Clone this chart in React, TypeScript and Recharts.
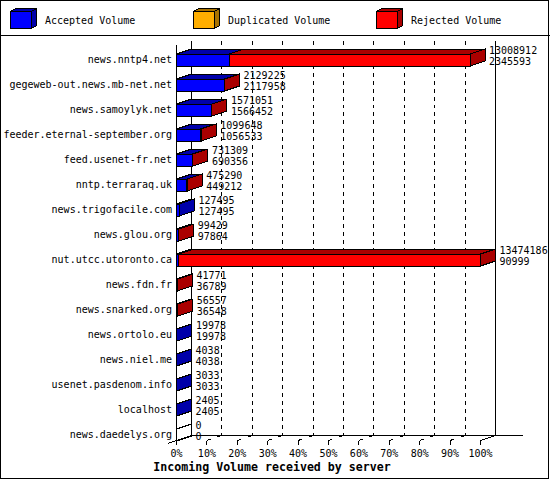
import React from 'react';
import { BarChart, Bar, XAxis, YAxis, CartesianGrid, Legend, LabelList } from 'recharts';

// ---------- data ----------
const SERVERS = [
  'news.nntp4.net',
  'gegeweb-out.news.mb-net.net',
  'news.samoylyk.net',
  'feeder.eternal-september.org',
  'feed.usenet-fr.net',
  'nntp.terraraq.uk',
  'news.trigofacile.com',
  'news.glou.org',
  'nut.utcc.utoronto.ca',
  'news.fdn.fr',
  'news.snarked.org',
  'news.ortolo.eu',
  'news.niel.me',
  'usenet.pasdenom.info',
  'localhost',
  'news.daedelys.org',
];
const TOTAL_VOLUME = [
  13008912, 2129225, 1571051, 1099648, 731309, 475290, 127495, 99429,
  13474186, 41771, 56557, 19978, 4038, 3033, 2405, 0,
];
const ACCEPTED_VOLUME = [
  2345593, 2117958, 1566452, 1056533, 690356, 449212, 127495, 97864,
  90999, 36789, 36548, 19978, 4038, 3033, 2405, 0,
];
const PERCENT_TICKS = [0, 10, 20, 30, 40, 50, 60, 70, 80, 90, 100];
const LEGEND_LABELS = ['Accepted Volume', 'Duplicated Volume', 'Rejected Volume'];
const AXIS_TITLE = 'Incoming Volume received by server';

const MAX_TOTAL = Math.max(...TOTAL_VOLUME);
const ROWS = SERVERS.map((name, i) => ({
  name,
  total: TOTAL_VOLUME[i],
  accepted: ACCEPTED_VOLUME[i],
  rejected: TOTAL_VOLUME[i] - ACCEPTED_VOLUME[i],
}));
const TICK_VALUES = PERCENT_TICKS.map((p) => (p / 100) * MAX_TOTAL);
const GRID_VALUES = TICK_VALUES.slice(1, -1);
const WALL_VALUES = [0, MAX_TOTAL];

// ---------- style ----------
const W = 550;
const H = 480;
const FONT = '"DejaVu Sans Mono", "Liberation Mono", monospace';
const DX = 15;
const DY = 5;
const LEGEND_H = 36;
const BACK_TOP = 40.5;
const BACK_BOTTOM = 435.5;
const FRONT_BOTTOM = 440.5;
const FLOOR_END = 523;

const COLORS = {
  accepted: ['#0000ff', '#0000aa'],
  duplicated: ['#ffae00', '#a87200'],
  rejected: ['#ff0000', '#aa0000'],
};
const LEGEND_COLORS = [COLORS.accepted, COLORS.duplicated, COLORS.rejected];

const poly = (pts: number[][]) => pts.map((p) => p.join(',')).join(' ');

// map a value through the x axis scale handed over by recharts
function applyScale(axis: any, offset: any, v: number): number {
  const s = axis && axis.scale;
  let r: any = NaN;
  try {
    if (typeof s === 'function') r = s(v);
    else if (s && typeof s.map === 'function') r = s.map(v);
    else if (s && typeof s.scale === 'function') r = s.scale(v);
    else if (s && typeof s.apply === 'function') r = s.apply(v);
  } catch (e) {
    r = NaN;
  }
  if (typeof r === 'number' && isFinite(r)) return r;
  // fallback: linear mapping across the plot area
  const dom = (axis && axis.domain) || [0, MAX_TOTAL];
  const lo = Number(dom[0]) || 0;
  const hi = Number(dom[1]) || MAX_TOTAL;
  return offset.left + ((v - lo) / (hi - lo)) * offset.width;
}

function Box3D({ x, y, width, height, front, dark, side }: any) {
  const x0 = Number(x);
  const w = Math.max(0, Number(width) || 0);
  const x1 = x0 + w;
  const t = Number(y);
  const b = t + Number(height);
  return (
    <g shapeRendering="crispEdges" stroke="#000" strokeWidth={1}>
      <polygon points={poly([[x0, t], [x1, t], [x1, b], [x0, b]])} fill={front} />
      <polygon points={poly([[x0, t], [x1, t], [x1 + DX, t - DY], [x0 + DX, t - DY]])} fill={dark} />
      {side ? (
        <polygon points={poly([[x1, t], [x1 + DX, t - DY], [x1 + DX, b - DY], [x1, b]])} fill={side} />
      ) : null}
    </g>
  );
}

const AcceptedShape = (props: any) => {
  const p = props.payload || {};
  const empty = !(p.total > 0);
  const showSide = !(p.rejected > 0);
  return (
    <Box3D
      {...props}
      front={empty ? '#fff' : COLORS.accepted[0]}
      dark={empty ? '#fff' : COLORS.accepted[1]}
      side={showSide ? (empty ? '#fff' : COLORS.accepted[1]) : null}
    />
  );
};

const RejectedShape = (props: any) => {
  const p = props.payload || {};
  if (!(p.rejected > 0)) return <g />;
  return <Box3D {...props} front={COLORS.rejected[0]} dark={COLORS.rejected[1]} side={COLORS.rejected[1]} />;
};

const ValueLabel = (props: any) => {
  const { x, y, width, height, index, value } = props;
  const xe = Number(x) + Math.max(0, Number(width) || 0) + DX + 4;
  const cy = Number(y) + Number(height) / 2;
  const acc = ROWS[index] ? ROWS[index].accepted : '';
  return (
    <g fontFamily={FONT} fontSize={10} fill="#000">
      <text x={xe} y={cy - 9.5} dominantBaseline="central">{value}</text>
      <text x={xe} y={cy + 1.5} dominantBaseline="central">{acc}</text>
    </g>
  );
};

const ServerTick = (props: any) => {
  const { y, payload } = props;
  return (
    <text x={172} y={y} textAnchor="end" dominantBaseline="central" fontFamily={FONT} fontSize={10} fill="#000">
      {payload.value}
    </text>
  );
};

const PercentTick = (props: any) => {
  const { x, payload, index } = props;
  const px = Number(x);
  const pct = Math.round((payload.value / MAX_TOTAL) * 100);
  const first = index === 0;
  const last = index === PERCENT_TICKS.length - 1;
  return (
    <g>
      <g stroke="#000" strokeWidth={1} shapeRendering="crispEdges">
        <line x1={px} y1={FRONT_BOTTOM} x2={px} y2={FRONT_BOTTOM + 4} />
        {first ? (
          <>
            <line x1={px} y1={44.5} x2={px} y2={FRONT_BOTTOM} />
            <line x1={px - 8.5} y1={FRONT_BOTTOM + 2.8} x2={px + DX} y2={BACK_BOTTOM} />
          </>
        ) : last ? (
          <line x1={px} y1={FRONT_BOTTOM} x2={px + DX} y2={BACK_BOTTOM} />
        ) : (
          <line x1={px} y1={FRONT_BOTTOM} x2={px + DX} y2={BACK_BOTTOM} strokeDasharray="4 7 5" />
        )}
      </g>
      <text x={px} y={453} textAnchor="middle" dominantBaseline="central" fontFamily={FONT} fontSize={10} fill="#000">
        {pct}%
      </text>
    </g>
  );
};

const AxisTitle = () => (
  <text x={272} y={467} textAnchor="middle" dominantBaseline="central" fontFamily={FONT} fontSize={11.6} fontWeight="bold" fill="#000">
    {AXIS_TITLE}
  </text>
);

const LegendBox = () => (
  <svg width={W} height={LEGEND_H} style={{ display: 'block' }}>
    {LEGEND_LABELS.map((label, i) => {
      const x0 = 10 + 183 * i;
      const [front, dark] = LEGEND_COLORS[i];
      const l = x0 + 0.5;
      const r = x0 + 21.5;
      const t = 11.5;
      const b = 28.5;
      return (
        <g key={label}>
          <g stroke="#000" strokeWidth={1} shapeRendering="crispEdges">
            <polygon points={poly([[l, t], [r, t], [r, b], [l, b]])} fill={front} />
            <polygon points={poly([[l, t], [r, t], [r + 5, t - 3], [l + 5, t - 3]])} fill={dark} />
            <polygon points={poly([[r, t], [r + 5, t - 3], [r + 5, b - 3], [r, b]])} fill={dark} />
          </g>
          <text x={x0 + 35} y={20} dominantBaseline="central" fontFamily={FONT} fontSize={10} fill="#000">
            {label}
          </text>
        </g>
      );
    })}
    <line x1={0} y1={35.5} x2={W} y2={35.5} stroke="#000" strokeWidth={1} shapeRendering="crispEdges" />
  </svg>
);

const dashedGen = ({ xAxis, offset }: any) => GRID_VALUES.map((v) => applyScale(xAxis, offset, v) + DX);
const wallGen = ({ xAxis, offset }: any) => WALL_VALUES.map((v) => applyScale(xAxis, offset, v) + DX);

export default function App() {
  return (
    <div style={{ position: 'relative', width: W, height: H, fontFamily: FONT, background: '#fff' }}>
      <style>{'body{margin:0;background:#fff}'}</style>
      <BarChart
        width={W}
        height={H}
        data={ROWS}
        layout="vertical"
        margin={{ top: 11, right: 69.5, bottom: 0, left: 0 }}
        barSize={12}
      >
        <Legend
          verticalAlign="top"
          align="left"
          height={LEGEND_H}
          wrapperStyle={{ top: 0, left: 0, width: W, height: LEGEND_H, margin: 0, padding: 0 }}
          content={() => <LegendBox />}
        />
        <CartesianGrid
          horizontal={false}
          vertical
          stroke="#000"
          strokeDasharray="4 4"
          y={BACK_TOP}
          height={BACK_BOTTOM - BACK_TOP}
          verticalCoordinatesGenerator={dashedGen}
          shapeRendering="crispEdges"
        />
        <CartesianGrid
          horizontal
          vertical
          stroke="#000"
          x={191.5}
          width={FLOOR_END - 191.5}
          y={BACK_TOP}
          height={BACK_BOTTOM - BACK_TOP}
          verticalCoordinatesGenerator={wallGen}
          horizontalCoordinatesGenerator={() => [BACK_BOTTOM]}
          shapeRendering="crispEdges"
        />
        <XAxis
          type="number"
          domain={[0, MAX_TOTAL]}
          ticks={TICK_VALUES}
          interval={0}
          height={33}
          axisLine={false}
          tickLine={false}
          tick={(p: any) => <PercentTick {...p} />}
          label={{ content: () => <AxisTitle /> }}
        />
        <YAxis
          type="category"
          dataKey="name"
          width={176.5}
          axisLine={false}
          tickLine={false}
          interval={0}
          tick={(p: any) => <ServerTick {...p} />}
        />
        <Bar dataKey="accepted" stackId="v" isAnimationActive={false} shape={AcceptedShape} />
        <Bar dataKey="rejected" stackId="v" isAnimationActive={false} shape={RejectedShape}>
          <LabelList dataKey="total" content={ValueLabel} />
        </Bar>
      </BarChart>
      <div
        style={{
          position: 'absolute',
          left: 0,
          top: 0,
          width: 549,
          height: 479,
          border: '1px solid #000',
          boxSizing: 'border-box',
          pointerEvents: 'none',
        }}
      />
    </div>
  );
}
